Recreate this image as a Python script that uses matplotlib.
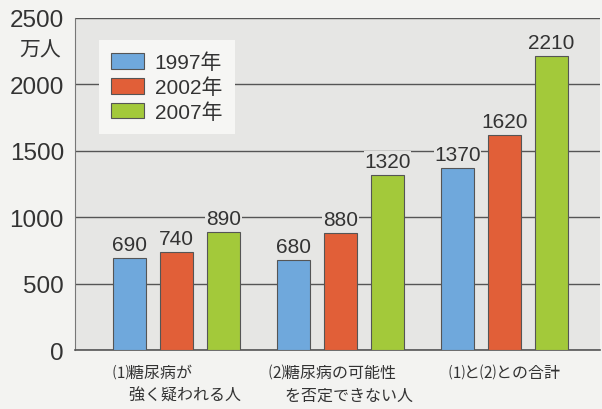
import matplotlib
matplotlib.use("Agg")
import matplotlib.pyplot as plt
import numpy as np

plt.rcParams['font.family'] = ['Liberation Sans', 'Noto Sans CJK JP', 'DejaVu Sans']

# Datos
categories = ["⑴糖尿病が\n　強く疑われる人", "⑵糖尿病の可能性\n　を否定できない人", "⑴と⑵との合計"]
years = ["1997年", "2002年", "2007年"]
values_1997 = [690, 680, 1370]
values_2002 = [740, 880, 1620]
values_2007 = [890, 1320, 2210]

colors = ["#6fa8dc", "#e15f38", "#a3c93a"]
cjk = ['Noto Sans CJK JP', 'DejaVu Sans']

fig = plt.figure(figsize=(6.02, 4.10), dpi=100)
fig.patch.set_facecolor("#f3f3f1")
ax = fig.add_axes([0.1246, 0.1439, 0.872, 0.8098])
ax.set_facecolor("#e6e6e4")

x = np.arange(len(categories))
width = 0.2
offset = 0.287
series = [values_1997, values_2002, values_2007]
for i, (vals, col, yr) in enumerate(zip(series, colors, years)):
    bars = ax.bar(x + (i - 1) * offset, vals, width, color=col,
                  edgecolor="#555555", linewidth=0.8, label=yr, zorder=3)
    for b, v in zip(bars, vals):
        ax.annotate(str(v), (b.get_x() + b.get_width() / 2, v),
                    xytext=(0, 3), textcoords="offset points",
                    ha="center", va="bottom", fontsize=15, color="#333333", zorder=4,
                    bbox=dict(facecolor="#e6e6e4", edgecolor="none", pad=0.5))

ax.set_xlim(-0.619, 2.582)
ax.set_ylim(0, 2500)
ax.set_yticks([0, 500, 1000, 1500, 2000, 2500])
ax.tick_params(axis="y", length=0, labelsize=17.5, labelcolor="#333333", pad=8)
ax.set_xticks([])
ax.grid(axis="y", color="#555555", linewidth=1, zorder=1)
for s in ["top", "right"]:
    ax.spines[s].set_visible(False)
ax.spines["left"].set_color("#777777")
ax.spines["bottom"].set_color("#555555")
ax.spines["bottom"].set_linewidth(1.2)

# Etiquetas de categorías
for xi, cat in zip(x, categories):
    ax.text(xi, -100, cat, ha="center", va="top", fontsize=11.5, family=cjk,
            color="#333333", multialignment="left", linespacing=1.5)

fig.text(0.066, 0.878, "万人", ha="center", va="center", fontsize=15,
         family=cjk, color="#333333")

leg = ax.legend(loc="upper left", bbox_to_anchor=(0.025, 0.965), fontsize=15,
                frameon=True, fancybox=False, handlelength=1.6, handleheight=0.8,
                labelspacing=0.25, borderpad=0.6, handletextpad=0.5)
leg.get_frame().set_facecolor("#f6f6f4")
leg.get_frame().set_edgecolor("none")
leg.get_frame().set_alpha(1)
leg.set_zorder(5)
for t in leg.get_texts():
    t.set_color("#333333")

fig.savefig("out.png", dpi=100, facecolor=fig.get_facecolor())
